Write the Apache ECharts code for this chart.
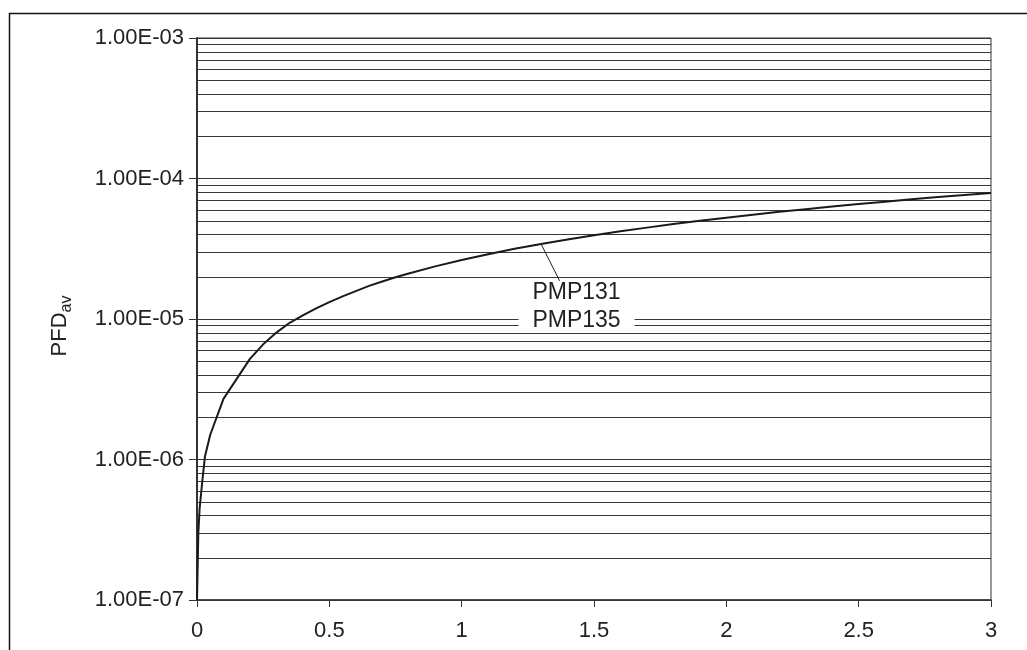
<!DOCTYPE html>
<html>
<head>
<meta charset="utf-8">
<script src="https://cdn.jsdelivr.net/npm/echarts@6/dist/echarts.min.js"></script>
<style>
  html, body { margin: 0; padding: 0; background: #fff; }
  #chart { width: 1027px; height: 650px; }
</style>
</head>
<body>
<div id="chart"></div>
<script>
// years (x) and PFDav
const xValues = [0, 0.005, 0.01, 0.02, 0.03, 0.05, 0.1, 0.2, 0.25, 0.3, 0.35, 0.4, 0.45, 0.5, 0.55,
  0.6, 0.65, 0.7, 0.75, 0.8, 0.9, 1.0, 1.1, 1.2, 1.3, 1.4, 1.5, 1.6, 1.7, 1.8, 1.9, 2.0, 2.1, 2.2,
  2.3, 2.4, 2.5, 2.6, 2.7, 2.8, 2.9, 3.0];
const pfdValues = [1.0e-7, 3.0e-7, 4.5e-7, 7.0e-7, 1.05e-6, 1.5e-6, 2.7e-6, 5.2e-6, 6.6e-6, 8.0e-6,
  9.4e-6, 1.06e-5, 1.19e-5, 1.32e-5, 1.45e-5, 1.58e-5, 1.72e-5, 1.85e-5, 1.98e-5, 2.11e-5, 2.37e-5,
  2.63e-5, 2.89e-5, 3.16e-5, 3.42e-5, 3.68e-5, 3.95e-5, 4.21e-5, 4.47e-5, 4.74e-5, 5.0e-5, 5.26e-5,
  5.53e-5, 5.79e-5, 6.05e-5, 6.32e-5, 6.58e-5, 6.84e-5, 7.11e-5, 7.37e-5, 7.63e-5, 7.9e-5];

const xTickLabels = ['0', '0.5', '1', '1.5', '2', '2.5', '3'];
const yTickLabels = ['1.00E-07', '1.00E-06', '1.00E-05', '1.00E-04', '1.00E-03'];
const decades = [1e-7, 1e-6, 1e-5, 1e-4];
const gridSteps = [1, 2, 3, 4, 5, 6, 7, 8, 9];

// horizontal grid lines at every 1..9 step of each decade
const gridValues = [];
decades.forEach(d => gridSteps.forEach(s => gridValues.push(+(d * s).toPrecision(3))));
gridValues.push(1e-3);

const font = '"Liberation Sans", Arial, sans-serif';
const chart = echarts.init(document.getElementById('chart'));

const option = {
  animation: false,
  backgroundColor: '#fff',
  grid: {
    left: 197, right: 36, top: 38, bottom: 50,
    show: true, borderColor: '#333', borderWidth: 1
  },
  xAxis: {
    type: 'value',
    min: 0, max: 3, interval: 0.5,
    axisLine: { lineStyle: { color: '#333', width: 1.5 } },
    axisTick: { show: true, length: 7, lineStyle: { color: '#333' } },
    axisLabel: {
      margin: 20, fontSize: 22, fontFamily: font, color: '#222',
      formatter: (v) => xTickLabels[Math.round(v / 0.5)]
    },
    splitLine: { show: false }
  },
  yAxis: {
    type: 'log', logBase: 10,
    min: 1e-7, max: 1e-3,
    axisLine: { show: true, lineStyle: { color: '#333', width: 2 } },
    axisTick: { show: true, inside: false, length: 8, lineStyle: { color: '#333' } },
    axisLabel: {
      margin: 13, fontSize: 22, fontFamily: font, color: '#222',
      formatter: (v) => yTickLabels[Math.round(Math.log10(v)) + 7]
    },
    splitLine: { show: false }
  },
  series: [
    {
      // grid lines drawn across the plot at each value of gridValues
      type: 'custom',
      silent: true,
      z: 1,
      data: gridValues.map(v => [0, v]),
      renderItem: (params, api) => {
        const v = api.value(1);
        const a = api.coord([0, v]);
        const b = api.coord([3, v]);
        return {
          type: 'line',
          shape: { x1: a[0], y1: Math.round(a[1]) + 0.5, x2: b[0], y2: Math.round(b[1]) + 0.5 },
          style: { stroke: '#383838', lineWidth: 1 }
        };
      }
    },
    {
      name: 'PMP131 / PMP135',
      type: 'line',
      data: xValues.map((x, i) => [x, pfdValues[i]]),
      showSymbol: false,
      symbol: 'none',
      lineStyle: { color: '#1a1a1a', width: 2 },
      z: 5
    }
  ]
};
chart.setOption(option);

// annotation anchors in data space
const labelX = 1.434;
const label1Y = 1.54e-5;
const label2Y = 9.7e-6;
const leaderIdx = 24;          // curve point the leader starts from (x = 1.3)
const leaderEnd = [1.37, 1.87e-5];

const p1 = chart.convertToPixel({ gridIndex: 0 }, [labelX, label1Y]);
const p2 = chart.convertToPixel({ gridIndex: 0 }, [labelX, label2Y]);
const ls = chart.convertToPixel({ gridIndex: 0 }, [xValues[leaderIdx], pfdValues[leaderIdx]]);
const le = chart.convertToPixel({ gridIndex: 0 }, leaderEnd);

chart.setOption({
  graphic: [
    // outer frame of the figure
    { type: 'rect', z: 100, silent: true,
      shape: { x: 9.5, y: 13.5, width: 1200, height: 800 },
      style: { fill: 'none', stroke: '#111', lineWidth: 1.5 } },
    // y axis title PFDav
    { type: 'text', z: 100, silent: true, x: 60, y: 326, rotation: Math.PI / 2,
      style: {
        text: '{a|PFD}{b|av}', align: 'center', verticalAlign: 'middle',
        rich: {
          a: { fontSize: 22, fontFamily: font, fill: '#222', lineHeight: 30, verticalAlign: 'middle' },
          b: { fontSize: 16, fontFamily: font, fill: '#222', lineHeight: 30, verticalAlign: 'bottom' }
        }
      } },
    { type: 'rect', z: 100, silent: true,
      shape: { x: p2[0] - 58, y: p2[1] - 11, width: 116, height: 22 },
      style: { fill: '#fff' } },
    { type: 'line', z: 101, silent: true,
      shape: { x1: ls[0], y1: ls[1], x2: le[0], y2: le[1] },
      style: { stroke: '#222', lineWidth: 1 } },
    { type: 'text', z: 102, silent: true, x: p1[0], y: p1[1],
      style: { text: 'PMP131', font: '23px ' + font, fill: '#222', align: 'center', verticalAlign: 'middle' } },
    { type: 'text', z: 102, silent: true, x: p2[0], y: p2[1],
      style: { text: 'PMP135', font: '23px ' + font, fill: '#222', align: 'center', verticalAlign: 'middle' } }
  ]
});
</script>
</body>
</html>
